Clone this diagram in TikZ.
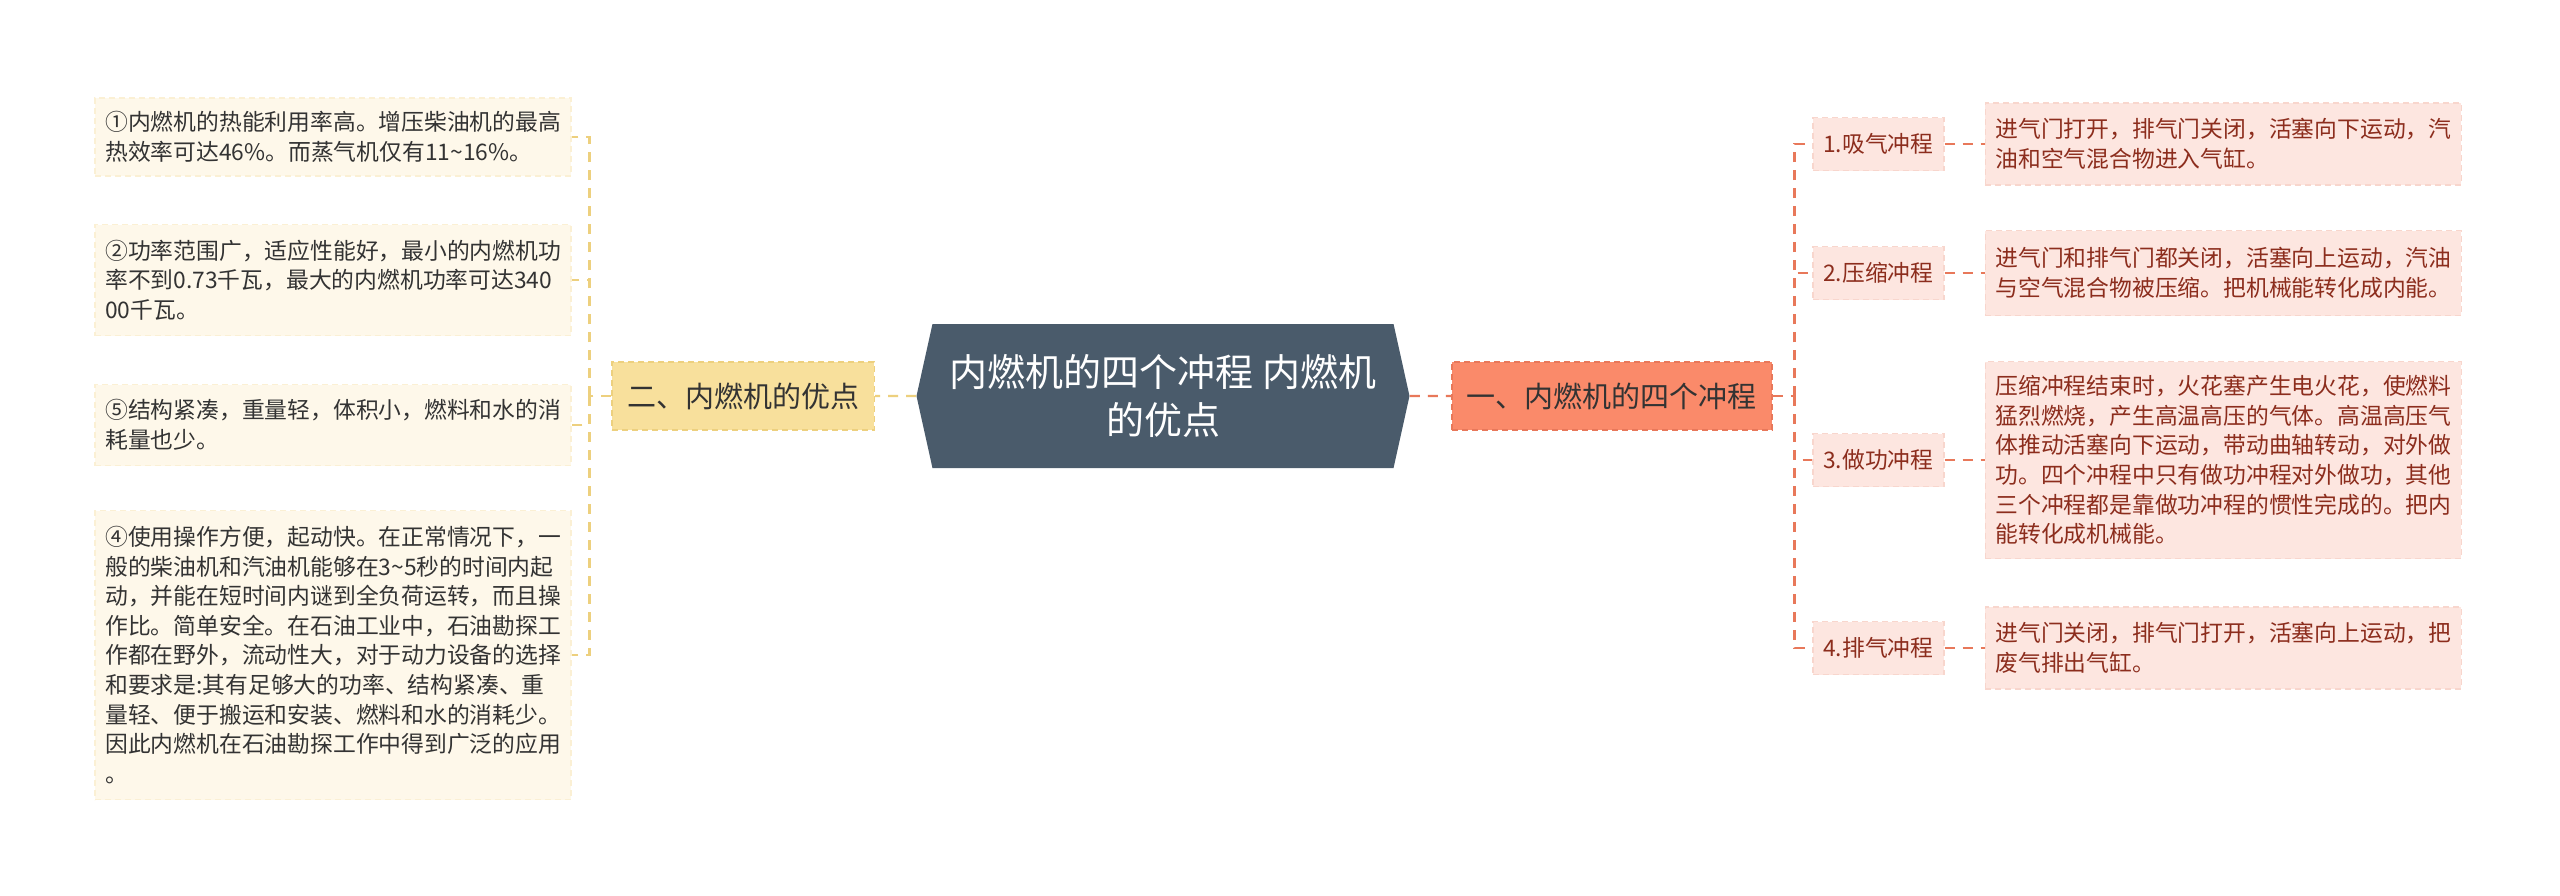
\documentclass[tikz,border=0pt]{standalone}
\usepackage{fontspec}
\setmainfont{Noto Sans CJK SC}
\usetikzlibrary{positioning, shapes.symbols}

\definecolor{rootfill}{HTML}{4A5B6B}
\definecolor{yelfill}{HTML}{F8E09C}
\definecolor{yelline}{HTML}{EDD07E}
\definecolor{leaffill}{HTML}{FEF8EA}
\definecolor{leafline}{HTML}{FBF0D4}
\definecolor{salfill}{HTML}{FA8A6A}
\definecolor{salline}{HTML}{E8785A}
\definecolor{pinkfill}{HTML}{FDE6E0}
\definecolor{pinkline}{HTML}{F8D6CD}
\definecolor{txtdark}{HTML}{333333}
\definecolor{txtred}{HTML}{8C2D1D}

\begin{document}
\begin{tikzpicture}[
    x=0.5pt, y=-0.5pt,
    root/.style={shape=signal, signal to=west and east, signal pointer angle=155,
        fill=rootfill, text=white, align=center, inner sep=0pt,
        minimum width=246.5pt, minimum height=72pt, font=\fontsize{19}{24}\selectfont},
    branch/.style={draw, line width=0.8pt, dash pattern=on 3pt off 2pt, align=center,
        minimum height=34pt, inner xsep=7.5pt, text=txtdark, font=\fontsize{14.5}{17}\selectfont},
    leaf/.style={draw=leafline, fill=leaffill, line width=0.8pt, dash pattern=on 3pt off 2pt,
        text width=228pt, inner xsep=5pt, align=left, text=txtdark,
        font=\fontsize{11.4}{14.8}\selectfont},
    stagebox/.style={draw=pinkline, fill=pinkfill, line width=0.8pt, dash pattern=on 3pt off 2pt,
        minimum width=65.5pt, minimum height=26.5pt, inner xsep=4pt, text=txtred,
        font=\fontsize{11.4}{14.8}\selectfont},
    descbox/.style={leaf, draw=pinkline, fill=pinkfill, text=txtred},
    linkY/.style={draw=yelline, line width=1.2pt, dash pattern=on 5pt off 4pt},
    linkR/.style={draw=salline, line width=1.2pt, dash pattern=on 5pt off 4pt}
]

% Fondo
\fill[white] (0,0) rectangle (2560,895);

% Nodo central
\node[root] (root) at (1163,396) {内燃机的四个冲程 内燃机\\的优点};

% Ramas principales
\node[branch, fill=yelfill, draw=yelline, left=20.5pt of root] (advant) {二、内燃机的优点};
\node[branch, fill=salfill, draw=salline, right=20.5pt of root] (strokes) {一、内燃机的四个冲程};

\draw[linkY] (root) -- (advant);
\draw[linkR] (root) -- (strokes);

% Ventajas (izquierda)
\node[leaf, anchor=east, minimum height=39pt] (adv1) at (572,137)
{①内燃机的热能利用率高。增压柴油机的最高\\热效率可达46\%。而蒸气机仅有11\textasciitilde16\%。};
\node[leaf, anchor=east, minimum height=55.5pt] (adv2) at (572,280)
{②功率范围广，适应性能好，最小的内燃机功\\率不到0.73千瓦，最大的内燃机功率可达340\\00千瓦。};
\node[leaf, anchor=east, minimum height=40.5pt] (adv3) at (572,425)
{⑤结构紧凑，重量轻，体积小，燃料和水的消\\耗量也少。};
\node[leaf, anchor=east, minimum height=144.5pt] (adv4) at (572,655)
{④使用操作方便，起动快。在正常情况下，一\\般的柴油机和汽油机能够在3\textasciitilde5秒的时间内起\\动，并能在短时间内谜到全负荷运转，而且操\\作比。简单安全。在石油工业中，石油勘探工\\作都在野外，流动性大，对于动力设备的选择\\和要求是:其有足够大的功率、结构紧凑、重\\量轻、便于搬运和安装、燃料和水的消耗少。\\因此内燃机在石油勘探工作中得到广泛的应用\\。};

% Conectores izquierda
\coordinate[left=11pt of advant.west] (ljoin);
\draw[linkY] (advant) -- (ljoin);
\foreach \n in {adv1, adv2, adv3, adv4}
    \draw[linkY] (ljoin) |- (\n.east);

% Cuatro tiempos (derecha)
\node[stagebox, anchor=west] (st1) at (1812,144) {1.吸气冲程};
\node[stagebox, anchor=west] (st2) at (1812,273) {2.压缩冲程};
\node[stagebox, anchor=west] (st3) at (1812,460) {3.做功冲程};
\node[stagebox, anchor=west] (st4) at (1812,648) {4.排气冲程};

% Descripciones
\node[descbox, right=20pt of st1, minimum height=41pt] (desc1)
{进气门打开，排气门关闭，活塞向下运动，汽\\油和空气混合物进入气缸。};
\node[descbox, right=20pt of st2, minimum height=42.5pt] (desc2)
{进气门和排气门都关闭，活塞向上运动，汽油\\与空气混合物被压缩。把机械能转化成内能。};
\node[descbox, right=20pt of st3, minimum height=98.5pt] (desc3)
{压缩冲程结束时，火花塞产生电火花，使燃料\\猛烈燃烧，产生高温高压的气体。高温高压气\\体推动活塞向下运动，带动曲轴转动，对外做\\功。四个冲程中只有做功冲程对外做功，其他\\三个冲程都是靠做功冲程的惯性完成的。把内\\能转化成机械能。};
\node[descbox, right=20pt of st4, minimum height=41pt] (desc4)
{进气门关闭，排气门打开，活塞向上运动，把\\废气排出气缸。};

% Conectores derecha
\coordinate[right=11pt of strokes.east] (rjoin);
\draw[linkR] (strokes) -- (rjoin);
\foreach \n in {1,...,4} {
    \draw[linkR] (rjoin) |- (st\n.west);
    \draw[linkR] (st\n) -- (desc\n);
}

\end{tikzpicture}
\end{document}
